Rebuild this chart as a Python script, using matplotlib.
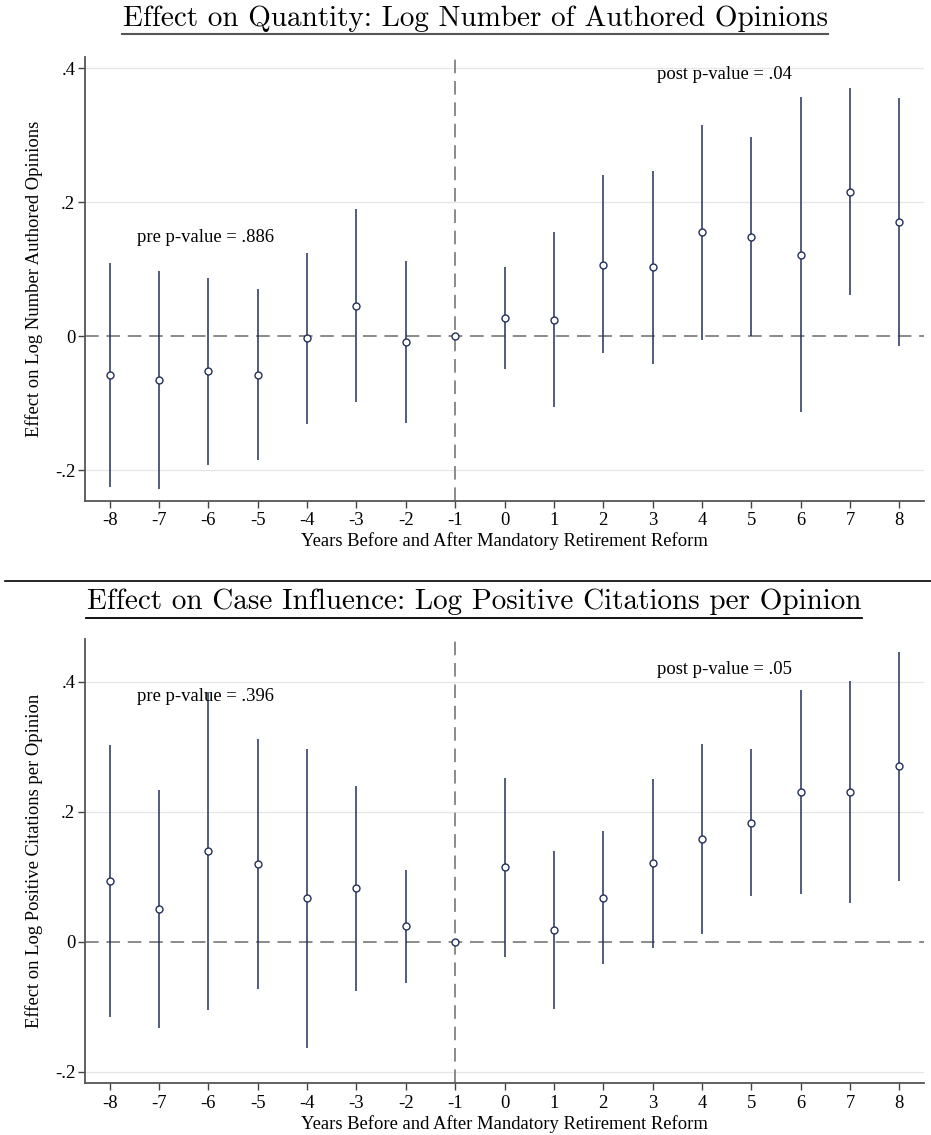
import numpy as np
import matplotlib
matplotlib.use("Agg")
import matplotlib.pyplot as plt
from matplotlib.lines import Line2D

# event time
years = [-8, -7, -6, -5, -4, -3, -2, -1, 0, 1, 2, 3, 4, 5, 6, 7, 8]

# panel 1: log number of authored opinions
qty_est = [-0.057, -0.065, -0.052, -0.057, -0.003, 0.046, -0.008, 0.0,
           0.027, 0.025, 0.107, 0.103, 0.155, 0.148, 0.122, 0.216, 0.171]
qty_lo = [-0.224, -0.227, -0.192, -0.184, -0.130, -0.098, -0.129, 0.0,
          -0.048, -0.106, -0.025, -0.041, -0.006, 0.000, -0.113, 0.061, -0.014]
qty_hi = [0.110, 0.097, 0.087, 0.071, 0.124, 0.190, 0.113, 0.0,
          0.103, 0.155, 0.240, 0.246, 0.315, 0.297, 0.357, 0.371, 0.356]

# panel 2: log positive citations per opinion
cit_est = [0.094, 0.051, 0.139, 0.120, 0.067, 0.083, 0.024, 0.0,
           0.115, 0.018, 0.068, 0.121, 0.158, 0.183, 0.231, 0.231, 0.270]
cit_lo = [-0.115, -0.132, -0.105, -0.072, -0.163, -0.075, -0.064, 0.0,
          -0.023, -0.104, -0.035, -0.010, 0.012, 0.071, 0.074, 0.060, 0.094]
cit_hi = [0.303, 0.234, 0.384, 0.311, 0.297, 0.240, 0.110, 0.0,
          0.252, 0.140, 0.171, 0.251, 0.304, 0.296, 0.387, 0.401, 0.446]

yticks = [-0.2, 0, 0.2, 0.4]
ytick_labels = ['-.2', '0', '.2', '.4']

titles = ['Effect on Quantity: Log Number of Authored Opinions',
          'Effect on Case Influence: Log Positive Citations per Opinion']
ylabels = ['Effect on Log Number Authored Opinions',
           'Effect on Log Positive Citations per Opinion']
xlabel = 'Years Before and After Mandatory Retirement Reform'
pre_txt = ['pre p-value = .886', 'pre p-value = .396']
post_txt = ['post p-value = .04', 'post p-value = .05']

NAVY = '#22305c'
DASH = '#8a8a8a'
SERIF = 'Liberation Serif'
FS = 13.4

fig = plt.figure(figsize=(9.31, 11.35), dpi=100)


def panel(ax, est, lo, hi, ylim, ylab, pre, post, pre_y, post_y):
    ax.set_xlim(-8.5, 8.5)
    ax.set_ylim(*ylim)
    for t in yticks:
        if t != 0:
            ax.axhline(t, color='#e6e6e6', lw=0.9, zorder=0)
    ax.axhline(0, color=DASH, lw=1.4, ls=(0, (7, 4)), zorder=1)
    ax.axvline(-1, color=DASH, lw=1.4, ls=(0, (7, 4)), zorder=1)
    x = np.array(years)
    ax.vlines(x, lo, hi, color=NAVY, lw=1.1, zorder=2)
    ax.plot(x, est, 'o', ms=5, mfc='white', mec=NAVY, mew=1.0, zorder=3)
    ax.set_xticks(years)
    ax.set_xticklabels([str(v) for v in years], fontfamily=SERIF, fontsize=FS)
    ax.set_yticks(yticks)
    ax.set_yticklabels(ytick_labels, fontfamily=SERIF, fontsize=FS)
    ax.tick_params(length=5, width=1, color='#444444', pad=2)
    ax.tick_params(axis='x', pad=3.5)
    ax.spines['top'].set_visible(False)
    ax.spines['right'].set_visible(False)
    for s in ('left', 'bottom'):
        ax.spines[s].set_color('#555555')
        ax.spines[s].set_linewidth(1.3)
    ax.set_xlabel(xlabel, fontfamily=SERIF, fontsize=FS, labelpad=2)
    ax.set_ylabel(ylab, fontfamily=SERIF, fontsize=FS)
    ax.yaxis.set_label_coords(-0.05, 0.5)
    ax.text(-7.45, pre_y, pre, fontfamily=SERIF, fontsize=FS, va='center', ha='left')
    ax.text(3.08, post_y, post, fontfamily=SERIF, fontsize=FS, va='center', ha='left')


ax1 = fig.add_axes([0.0913, 0.5589, 0.9012, 0.3911])
panel(ax1, qty_est, qty_lo, qty_hi, (-0.245, 0.417), ylabels[0],
      pre_txt[0], post_txt[0], 0.148, 0.39)

ax2 = fig.add_axes([0.0913, 0.0456, 0.9012, 0.3911])
panel(ax2, cit_est, cit_lo, cit_hi, (-0.2176, 0.465), ylabels[1],
      pre_txt[1], post_txt[1], 0.377, 0.418)

# titles with underline (Stata-style)
fig.text(0.5105, 1 - 19 / 1135, titles[0], fontfamily='cmr10', fontsize=21,
         ha='center', va='center')
fig.add_artist(Line2D([122 / 931, 828 / 931], [1 - 34 / 1135, 1 - 34 / 1135],
                      color='#555555', lw=1.5))
fig.add_artist(Line2D([5 / 931, 1.0], [1 - 580.5 / 1135, 1 - 580.5 / 1135],
                      color='black', lw=1.2))
fig.text(0.5091, 1 - 602 / 1135, titles[1], fontfamily='cmr10', fontsize=21,
         ha='center', va='center')
fig.add_artist(Line2D([86 / 931, 862 / 931], [1 - 617.5 / 1135, 1 - 617.5 / 1135],
                      color='black', lw=1.3))

fig.savefig('out.png', dpi=100)
